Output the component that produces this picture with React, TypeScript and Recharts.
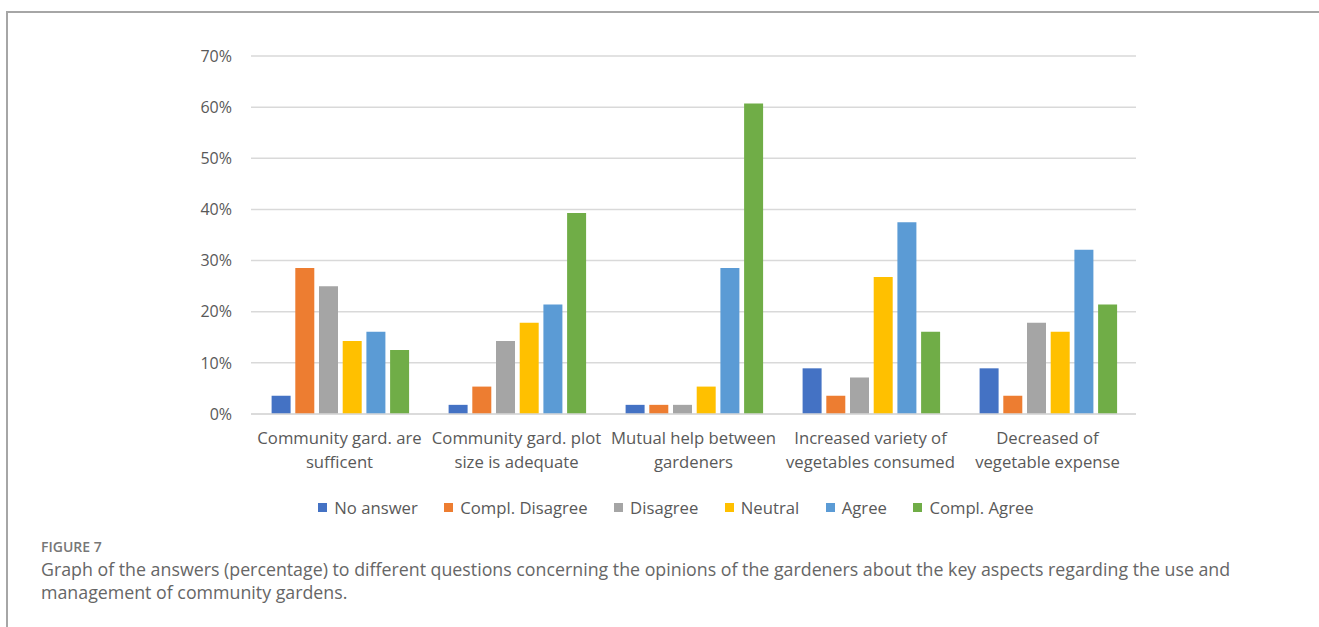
import { BarChart, Bar, XAxis, YAxis, CartesianGrid, Legend } from 'recharts'

const questions = [
  'Community gard. are sufficent',
  'Community gard. plot size is adequate',
  'Mutual help between gardeners',
  'Increased variety of vegetables consumed',
  'Decreased of vegetable expense',
]

// axis labels wrap onto two lines
const questionLines = [
  ['Community gard. are', 'sufficent'],
  ['Community gard. plot', 'size is adequate'],
  ['Mutual help between', 'gardeners'],
  ['Increased variety of', 'vegetables consumed'],
  ['Decreased of', 'vegetable expense'],
]

const noAnswer = [3.57, 1.79, 1.79, 8.93, 8.93]
const complDisagree = [28.57, 5.36, 1.79, 3.57, 3.57]
const disagree = [25.0, 14.29, 1.79, 7.14, 17.86]
const neutral = [14.29, 17.86, 5.36, 26.79, 16.07]
const agree = [16.07, 21.43, 28.57, 37.5, 32.14]
const complAgree = [12.5, 39.29, 60.71, 16.07, 21.43]

const yTicks = [0, 10, 20, 30, 40, 50, 60, 70]

const series = [
  { key: 'No answer', values: noAnswer, color: '#4472C4' },
  { key: 'Compl. Disagree', values: complDisagree, color: '#ED7D31' },
  { key: 'Disagree', values: disagree, color: '#A5A5A5' },
  { key: 'Neutral', values: neutral, color: '#FFC000' },
  { key: 'Agree', values: agree, color: '#5B9BD5' },
  { key: 'Compl. Agree', values: complAgree, color: '#70AD47' },
]
const seriesOrder = series.map((s) => s.key)

const data = questions.map((q, i) => {
  const row: Record<string, string | number> = { question: q }
  series.forEach((s) => {
    row[s.key] = s.values[i]
  })
  return row
})

const FONT = '"Open Sans", sans-serif'
const TEXT = '#595959'

function QuestionTick(props: any) {
  const { x, y, payload } = props
  const lines = questionLines[payload.index] || [payload.value]
  return (
    <text x={x} y={y} textAnchor="middle" fill={TEXT} fontSize={16.7} fontFamily={FONT}>
      {lines.map((l, i) => (
        <tspan key={i} x={x} y={y + 30 + i * 24}>
          {l}
        </tspan>
      ))}
    </text>
  )
}

function LegendRow(props: any) {
  // keep the series order instead of the alphabetical one
  const items = [...(props.payload || [])].sort(
    (a: any, b: any) => seriesOrder.indexOf(a.value) - seriesOrder.indexOf(b.value)
  )
  return (
    <div style={{ display: 'flex', justifyContent: 'center', fontFamily: FONT, fontSize: 16.7, color: TEXT }}>
      {items.map((it: any, i: number) => (
        <div
          key={it.value}
          style={{ display: 'flex', alignItems: 'center', marginRight: i === items.length - 1 ? 0 : 26.5 }}
        >
          <span style={{ width: 9, height: 9, background: it.color, marginRight: 7, display: 'inline-block' }} />
          <span>{it.value}</span>
        </div>
      ))}
    </div>
  )
}

export default function App() {
  return (
    <div style={{ position: 'absolute', left: 0, top: 0, width: 1319, height: 627, background: '#fff', overflow: 'hidden' }}>
      <div
        style={{
          position: 'absolute',
          left: 6,
          top: 11,
          right: -2,
          bottom: -2,
          borderTop: '2px solid #a6a6a6',
          borderLeft: '2px solid #a6a6a6',
        }}
      />
      <div style={{ position: 'absolute', left: 0, top: 0 }}>
        <BarChart
          width={1319}
          height={627}
          data={data}
          margin={{ top: 56, right: 183, left: 0, bottom: 163 }}
          barCategoryGap={20.6}
          barGap={4.7}
        >
          <CartesianGrid vertical={false} stroke="#d9d9d9" strokeWidth={1.5} />
          <XAxis
            dataKey="question"
            height={50}
            axisLine={{ stroke: '#d9d9d9', strokeWidth: 1.5 }}
            tickLine={false}
            tickSize={0}
            tickMargin={0}
            interval={0}
            tick={<QuestionTick />}
          />
          <YAxis
            width={251}
            domain={[0, 70]}
            ticks={yTicks}
            axisLine={false}
            tickLine={false}
            tickSize={0}
            tickMargin={19}
            tickFormatter={(v: number) => `${v}%`}
            tick={{ fill: TEXT, fontSize: 16, fontFamily: FONT }}
          />
          <Legend
            layout="horizontal"
            verticalAlign="middle"
            content={<LegendRow />}
            wrapperStyle={{ top: 496, left: 0, width: 1352 }}
          />
          {series.map((s) => (
            <Bar key={s.key} dataKey={s.key} fill={s.color} isAnimationActive={false} />
          ))}
        </BarChart>
      </div>
      <div
        style={{
          position: 'absolute',
          left: 41,
          top: 537,
          fontFamily: FONT,
          fontSize: 14,
          fontWeight: 600,
          color: '#777',
        }}
      >
        FIGURE 7
      </div>
      <div
        style={{
          position: 'absolute',
          left: 41,
          top: 558,
          fontFamily: FONT,
          fontSize: 17.8,
          color: '#666',
          lineHeight: '23px',
          whiteSpace: 'nowrap',
        }}
      >
        <div>
          Graph of the answers (percentage) to different questions concerning the opinions of the gardeners about the key aspects regarding the use and
        </div>
        <div>management of community gardens.</div>
      </div>
    </div>
  )
}
